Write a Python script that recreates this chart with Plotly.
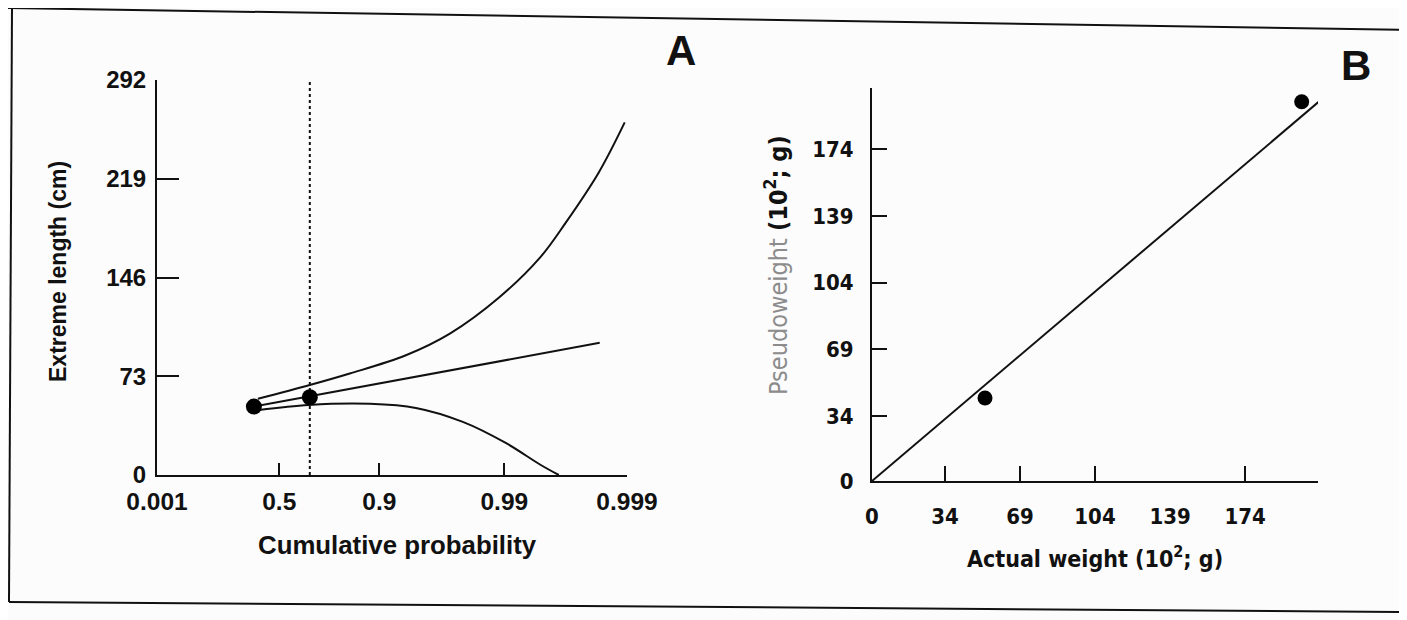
import numpy as np
import plotly.graph_objects as go

# ---------------- Panel A data (Gumbel probability paper) ----------------
prob_ticks = [0.001, 0.5, 0.9, 0.99, 0.999]
prob_labels = ["0.001", "0.5", "0.9", "0.99", "0.999"]
length_ticks = [0, 73, 146, 219, 292]

upper_p = [0.355, 0.677, 0.832, 0.938, 0.9724, 0.9889, 0.99485, 0.99684, 0.99830, 0.998956]
upper_len = [56.3, 66.5, 75.0, 88.5, 104.5, 131.0, 160.5, 186.6, 223.7, 260.7]

fit_p = [0.3275, 0.99833]
fit_len = [50.6, 97.7]

lower_p = [0.362, 0.672, 0.8815, 0.9483, 0.9783, 0.99026, 0.99495, 0.99640]
lower_len = [48.1, 51.8, 52.6, 49.6, 39.3, 23.7, 7.4, 0.0]

obs_p = [0.3275, 0.677]
obs_len = [50.6, 57.5]

ref_p = [0.677, 0.677]
ref_len = [0, 292]

# ---------------- Panel B data ----------------
weight_ticks = [0, 34, 69, 104, 139, 174]
weight_marked_ticks = [34, 69, 104, 174]
actual_w = [52.7, 200.4]
pseudo_w = [43.5, 198.8]
line_actual = [0, 209.3]
line_pseudo = [0, 199.7]


def gumbel(p):
    p = np.asarray(p, dtype=float)
    return -np.log(-np.log(p))


W, H = 1407, 620
OFF = 8  # page body margin
def px(x):
    return (x - OFF) / W
def py(y):
    return 1 - (y - OFF) / H

FA = "Liberation Sans, Arial, sans-serif"
FN = "DejaVu Sans Condensed, Liberation Sans Narrow, Arial Narrow, sans-serif"
BLACK = "#111111"

fig = go.Figure()

# Panel A traces
fig.add_trace(go.Scatter(x=gumbel(ref_p), y=ref_len, mode="lines",
                         line=dict(color=BLACK, width=2, dash="dot"),
                         xaxis="x", yaxis="y", showlegend=False))
fig.add_trace(go.Scatter(x=gumbel(upper_p), y=upper_len, mode="lines",
                         line=dict(color=BLACK, width=2, shape="spline", smoothing=1.0),
                         xaxis="x", yaxis="y", showlegend=False))
fig.add_trace(go.Scatter(x=gumbel(fit_p), y=fit_len, mode="lines",
                         line=dict(color=BLACK, width=2),
                         xaxis="x", yaxis="y", showlegend=False))
fig.add_trace(go.Scatter(x=gumbel(lower_p), y=lower_len, mode="lines",
                         line=dict(color=BLACK, width=2, shape="spline", smoothing=1.0),
                         xaxis="x", yaxis="y", showlegend=False))
fig.add_trace(go.Scatter(x=gumbel(obs_p), y=obs_len, mode="markers",
                         marker=dict(color="black", size=16),
                         xaxis="x", yaxis="y", showlegend=False))

# Panel B traces
fig.add_trace(go.Scatter(x=line_actual, y=line_pseudo, mode="lines",
                         line=dict(color=BLACK, width=2),
                         xaxis="x2", yaxis="y2", showlegend=False))
fig.add_trace(go.Scatter(x=actual_w, y=pseudo_w, mode="markers",
                         marker=dict(color="black", size=15),
                         xaxis="x2", yaxis="y2", showlegend=False))
# invisible trace on the tick-only overlay axis
fig.add_trace(go.Scatter(x=[0], y=[0], mode="markers", marker=dict(opacity=0),
                         xaxis="x3", yaxis="y2", showlegend=False, hoverinfo="skip"))

g_range = [float(gumbel(prob_ticks[0])), float(gumbel(prob_ticks[-1]))]

def ann(text, x, y, size, family, angle=0):
    return dict(text=text, x=px(x), y=py(y), xref="paper", yref="paper",
                xanchor="center", yanchor="middle", showarrow=False, textangle=angle,
                font=dict(size=size, family=family, color=BLACK))

fig.update_layout(
    width=W, height=H,
    margin=dict(l=0, r=0, t=0, b=0, autoexpand=False),
    paper_bgcolor="#fcfcfc",
    plot_bgcolor="rgba(0,0,0,0)",
    font=dict(family=FA, color=BLACK),
    xaxis=dict(
        domain=[px(157), px(627)], range=g_range, anchor="y", automargin=False,
        tickmode="array", tickvals=list(gumbel(prob_ticks)), ticktext=[f"<b>{t}</b>" for t in prob_labels],
        ticks="inside", ticklen=12, tickwidth=2, tickcolor=BLACK,
        showline=True, linecolor=BLACK, linewidth=2, showgrid=False, zeroline=False,
        tickfont=dict(size=24.5, family=FA), ticklabelstandoff=4,
    ),
    yaxis=dict(
        domain=[py(475), py(80)], range=[0, 292], anchor="x", automargin=False,
        tickmode="array", tickvals=length_ticks, ticktext=[f"<b>{t}</b>" for t in length_ticks],
        ticks="inside", ticklen=22, tickwidth=2, tickcolor=BLACK,
        showline=True, linecolor=BLACK, linewidth=2, showgrid=False, zeroline=False,
        tickfont=dict(size=24, family=FA), ticklabelstandoff=4,
    ),
    xaxis2=dict(
        domain=[px(872), px(1318)], range=[0, 208], anchor="y2", automargin=False,
        tickmode="array", tickvals=weight_ticks, ticktext=[f"<b>{t}</b>" for t in weight_ticks],
        ticks="", showline=True, linecolor=BLACK, linewidth=2, showgrid=False, zeroline=False,
        tickfont=dict(size=22, family=FN), ticklabelstandoff=15,
    ),
    xaxis3=dict(
        domain=[px(872), px(1318)], range=[0, 208], anchor="y2", overlaying="x2", automargin=False,
        tickmode="array", tickvals=weight_marked_ticks, showticklabels=False,
        ticks="inside", ticklen=15, tickwidth=2, tickcolor=BLACK,
        showline=False, showgrid=False, zeroline=False,
    ),
    yaxis2=dict(
        domain=[py(481), py(88)], range=[0, 206], anchor="x2", automargin=False,
        tickmode="array", tickvals=weight_ticks, ticktext=[f"<b>{t}</b>" for t in weight_ticks],
        ticks="inside", ticklen=15, tickwidth=2, tickcolor=BLACK,
        showline=True, linecolor=BLACK, linewidth=2, showgrid=False, zeroline=False,
        tickfont=dict(size=22, family=FN), ticklabelstandoff=12,
    ),
    annotations=[
        ann("<b>A</b>", 681, 50, 42, FA),
        ann("<b>B</b>", 1356, 66, 42, FA),
        ann("<b>Cumulative probability</b>", 397, 545, 25.8, FA),
        ann("<b>Extreme length (cm)</b>", 58, 272, 23, FA, -90),
        ann("<b>Actual weight (10<sup>2</sup>; g)</b>", 1095, 557, 23, FN),
        ann('<span style="color:#8c8c8c">Pseudoweight</span> <b>(10<sup>2</sup>; g)</b>',
            776, 265, 25, FN, -90),
    ],
    shapes=[
        dict(type="line", xref="paper", yref="paper", x0=px(8), y0=py(8), x1=px(1415), y1=py(30),
             line=dict(color=BLACK, width=2)),
        dict(type="line", xref="paper", yref="paper", x0=px(12), y0=py(8), x1=px(9), y1=py(602),
             line=dict(color=BLACK, width=2)),
        dict(type="line", xref="paper", yref="paper", x0=px(9), y0=py(602), x1=px(1415), y1=py(612),
             line=dict(color=BLACK, width=2)),
        dict(type="line", xref="paper", yref="paper", x0=px(1405), y0=py(32), x1=px(1405), y1=py(612),
             line=dict(color=BLACK, width=2)),
    ],
)

fig.write_html("out.html")
